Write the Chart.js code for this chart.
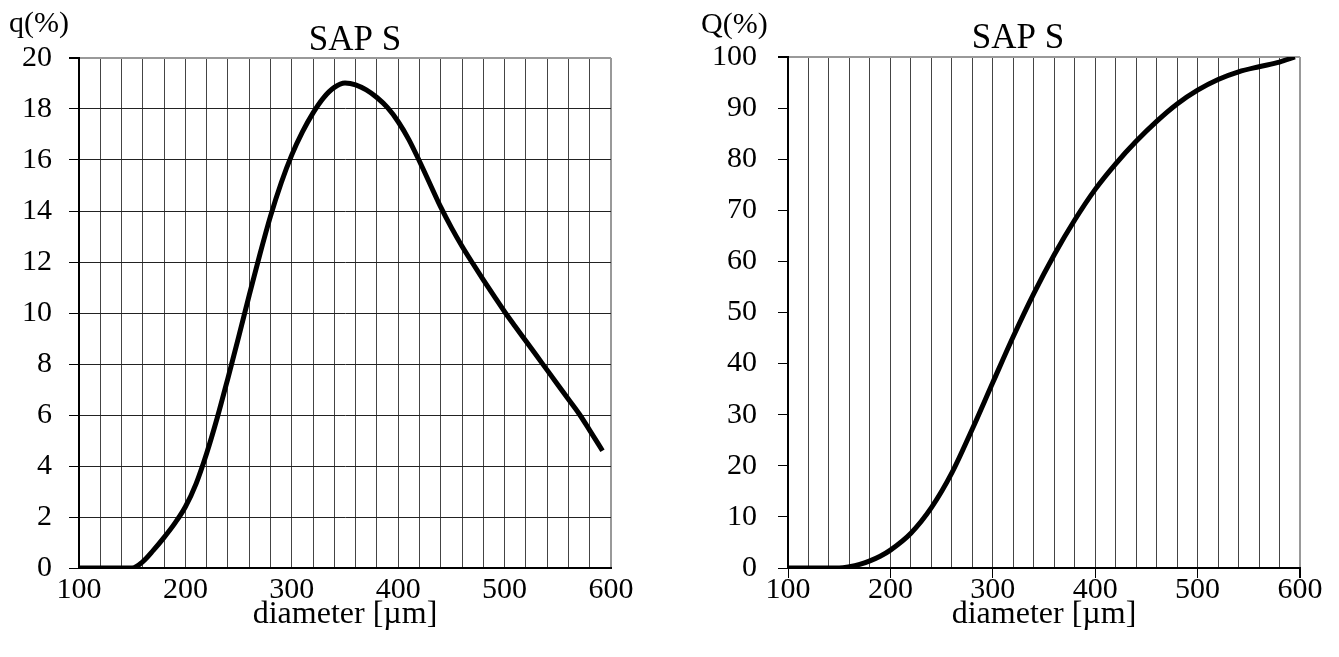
<!DOCTYPE html>
<html>
<head>
<meta charset="utf-8">
<script src="https://cdn.jsdelivr.net/npm/chart.js@4"></script>
<style>
  body { margin: 0; background: #fff; }
  .box { position: absolute; top: 0; height: 657px; }
  #leftBox { left: 0; width: 670px; }
  #rightBox { left: 670px; width: 669px; }
</style>
</head>
<body>
<div class="box" id="leftBox"><canvas id="qChart"></canvas></div>
<div class="box" id="rightBox"><canvas id="QChart"></canvas></div>
<script>
    // density curve q(%)
    const qDiameter = [100, 120, 140, 150, 160, 170, 180, 190, 200, 210, 220, 230, 240, 250, 260, 270, 280, 290, 300,
        310, 320, 330, 340, 350, 360, 370, 380, 390, 400, 410, 420, 430, 440, 450, 460, 470, 480, 490, 500,
        510, 520, 530, 540, 550, 560, 570, 580, 592];
    const qValues = [0, 0, 0, 0, 0.25, 0.7, 1.2, 1.75, 2.4, 3.3, 4.5, 5.9, 7.45, 9.05, 10.7, 12.3, 13.8, 15.1, 16.2,
        17.1, 17.85, 18.45, 18.85, 19.02, 18.95, 18.75, 18.45, 18.05, 17.5, 16.8, 15.95, 15.05, 14.15, 13.35, 12.62, 11.95, 11.3, 10.67, 10.05,
        9.47, 8.9, 8.33, 7.76, 7.19, 6.62, 6.05, 5.4, 4.6];

    // cumulative curve Q(%)
    const QDiameter = [100, 120, 140, 150, 160, 170, 180, 190, 200, 220, 240, 260, 280, 300, 320, 340, 360, 380, 400,
        420, 440, 460, 480, 500, 520, 540, 560, 580, 595];
    const QValues = [0, 0, 0, 0, 0.25, 0.7, 1.4, 2.3, 3.5, 6.8, 11.8, 18.6, 27.2, 36.3, 45.3, 53.7, 61.3, 68.1, 74.1,
        79.1, 83.5, 87.4, 90.8, 93.5, 95.6, 97.1, 98.1, 99.0, 100];

    const xLabels = [100, 200, 300, 400, 500, 600];
    const chartTitle = 'SAP S';
    const xTitle = 'diameter [µm]';

    const serif = "'Liberation Serif', 'Times New Roman', serif";

    // draws the chart title and the unit label in the top left corner
    const textPlugin = {
        id: 'texts',
        afterDraw(chart, args, opts) {
            const ctx = chart.ctx;
            ctx.save();
            ctx.fillStyle = '#000';
            ctx.textBaseline = 'alphabetic';
            ctx.font = '35px ' + serif;
            ctx.textAlign = 'center';
            ctx.fillText(chartTitle, opts.titleX, opts.titleY);
            ctx.font = '30px ' + serif;
            ctx.textAlign = 'left';
            ctx.fillText(opts.unit, opts.unitX, opts.unitY);
            ctx.restore();
        }
    };

    function toPoints(xs, ys) {
        return xs.map((x, i) => ({ x: x, y: ys[i] }));
    }

    function xScale(tickMarks) {
        return {
            type: 'linear',
            min: 100,
            max: 600,
            afterFit: s => { s.height = 89; },
            ticks: {
                stepSize: 20,
                autoSkip: false,
                maxRotation: 0,
                padding: tickMarks ? -6 : 4,
                color: '#000',
                font: { family: serif, size: 30 },
                callback: v => xLabels.includes(v) ? String(v) : ''
            },
            grid: {
                drawTicks: tickMarks,
                tickLength: 10,
                color: c => c.tick && c.tick.value === 600 ? '#999' : '#444',
                lineWidth: c => c.tick && c.tick.value === 600 ? 2 : 1,
                tickColor: c => (c.tick && xLabels.includes(c.tick.value)) ? '#000' : 'rgba(0,0,0,0)'
            },
            border: { color: '#000', width: 2 },
            title: {
                display: true,
                text: xTitle,
                color: '#000',
                font: { family: serif, size: 32 },
                padding: { top: 0, bottom: 23 }
            }
        };
    }

    // left: q(%)
    new Chart(document.getElementById('qChart'), {
        type: 'line',
        data: {
            datasets: [{
                data: toPoints(qDiameter, qValues),
                borderColor: '#000',
                borderWidth: 5,
                pointRadius: 0,
                cubicInterpolationMode: 'monotone',
                fill: false
            }]
        },
        options: {
            responsive: true,
            maintainAspectRatio: false,
            animation: false,
            layout: { padding: { left: 0, right: 59, top: 58, bottom: 0 } },
            scales: {
                x: xScale(false),
                y: {
                    min: 0,
                    max: 20,
                    afterFit: s => { s.width = 79; },
                    ticks: { stepSize: 2, padding: 17, color: '#000', font: { family: serif, size: 30 } },
                    grid: {
                        tickLength: 10,
                        tickColor: '#000',
                        color: c => c.tick && c.tick.value === 20 ? '#999' : '#222',
                        lineWidth: c => c.tick && c.tick.value === 20 ? 2 : 1
                    },
                    border: { color: '#000', width: 2 }
                }
            },
            plugins: {
                legend: { display: false },
                tooltip: { enabled: false },
                texts: { titleX: 355, titleY: 50, unit: 'q(%)', unitX: 9, unitY: 32 }
            }
        },
        plugins: [textPlugin]
    });

    // right: Q(%)
    new Chart(document.getElementById('QChart'), {
        type: 'line',
        data: {
            datasets: [{
                data: toPoints(QDiameter, QValues),
                borderColor: '#000',
                borderWidth: 5,
                pointRadius: 0,
                cubicInterpolationMode: 'monotone',
                fill: false
            }]
        },
        options: {
            responsive: true,
            maintainAspectRatio: false,
            animation: false,
            layout: { padding: { left: 0, right: 39, top: 57, bottom: 0 } },
            scales: {
                x: xScale(true),
                y: {
                    min: 0,
                    max: 100,
                    afterFit: s => { s.width = 118; },
                    ticks: { stepSize: 10, padding: 21, color: '#000', font: { family: serif, size: 30 } },
                    grid: {
                        tickLength: 10,
                        tickColor: '#000',
                        color: c => c.tick && c.tick.value === 100 ? '#999' : 'rgba(0,0,0,0)',
                        lineWidth: c => c.tick && c.tick.value === 100 ? 2 : 1
                    },
                    border: { color: '#000', width: 2 }
                }
            },
            plugins: {
                legend: { display: false },
                tooltip: { enabled: false },
                texts: { titleX: 348, titleY: 48, unit: 'Q(%)', unitX: 31, unitY: 33 }
            }
        },
        plugins: [textPlugin]
    });
</script>
</body>
</html>
